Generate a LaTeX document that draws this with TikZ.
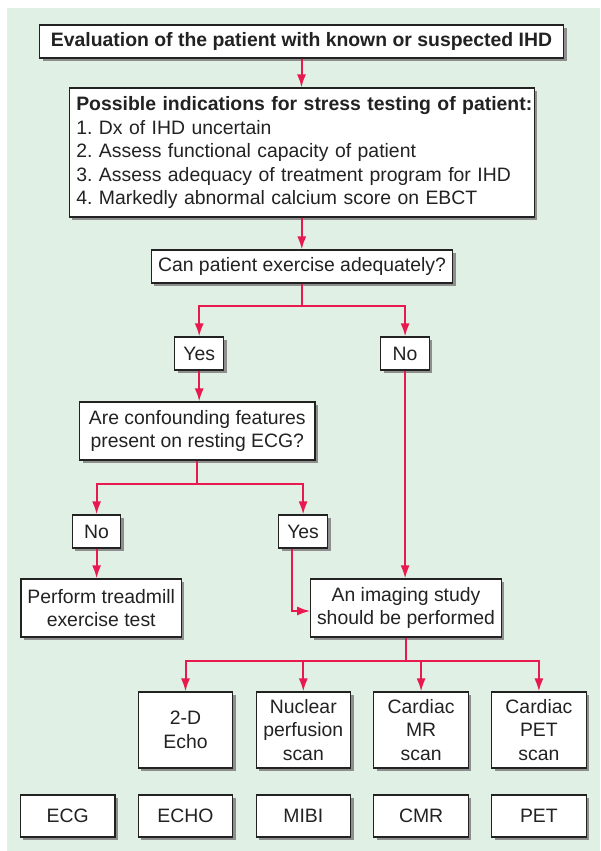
\documentclass[tikz,border=0pt]{standalone}
\usepackage{fontspec}
\setmainfont{Liberation Sans}
\usetikzlibrary{arrows.meta,calc,positioning,shadows}
\definecolor{ihdMint}{HTML}{E1F0E5}
\definecolor{ihdRose}{HTML}{E8194F}
\definecolor{ihdInk}{HTML}{222222}
\definecolor{ihdShade}{HTML}{8E8E8E}
\frenchspacing

\begin{document}
\begin{tikzpicture}[x=1pt,y=-1pt,>={Latex[length=13pt,width=9pt]}]
\useasboundingbox (0,0) rectangle (600,851);
\path[fill=ihdMint] (7,8) rectangle (600,851);
\tikzset{card/.style={draw=ihdInk,fill=white,line width=1.1pt,inner sep=4pt,align=center,text=ihdInk,font=\fontsize{19.4}{23.5}\selectfont,drop shadow={shadow xshift=3pt,shadow yshift=-3pt,fill=ihdShade,opacity=1}},link/.style={draw=ihdRose,line width=2pt}}
% top of the chart
\node[card,font=\bfseries\fontsize{19.4}{23.5}\selectfont,minimum width=524pt,minimum height=33pt] (eval) at (301.5,41.5) {Evaluation of the patient with known or suspected IHD};
\node[card,align=left,text width=451pt,inner xsep=7pt,minimum height=129pt] (indic) at (301.8,152.5) {\mbox{\textbf{Possible indications for stress testing of patient:}}\\1. Dx of IHD uncertain\\2. Assess functional capacity of patient\\3. Assess adequacy of treatment program for IHD\\4. Markedly abnormal calcium score on EBCT};
\node[card,minimum width=301.5pt,minimum height=33pt] (exer) at (302,266.5) {Can patient exercise adequately?};
\node[card,minimum width=48.6pt,minimum height=33pt] (yesA) at (199.2,353.5) {Yes};
\node[card,minimum width=48.6pt,minimum height=33pt] (noA) at (405.1,353.5) {No};
\node[card,minimum width=235.4pt,minimum height=58pt] (confound) at (197.3,431) {Are confounding features\\present on resting ECG?};
\node[card,minimum width=48.6pt,minimum height=33pt] (noB) at (96.6,531.5) {No};
\node[card,minimum width=49pt,minimum height=33pt] (yesB) at (303.1,531.5) {Yes};
\node[card,minimum width=160.4pt,minimum height=58pt] (treadmill) at (101.2,608) {Perform treadmill\\exercise test};
\node[card,minimum width=190.5pt,minimum height=58pt] (imaging) at (406,608) {An imaging study\\should be performed};
% imaging choices and their short names
\node[card,minimum width=94.5pt,minimum height=76pt] (echo) at (185.5,730) {2-D\\Echo};
\node[card,minimum width=94.5pt,minimum height=76pt] (nuclear) at (303.3,730) {Nuclear\\perfusion\\scan};
\node[card,minimum width=94.5pt,minimum height=76pt] (cardmr) at (421.1,730) {Cardiac\\MR\\scan};
\node[card,minimum width=94.5pt,minimum height=76pt] (cardpet) at (538.9,730) {Cardiac\\PET\\scan};
\node[card,minimum width=94.5pt,minimum height=42pt] (ecgTag) at (67.7,816) {ECG};
\node[card,minimum width=94.5pt,minimum height=42pt] (echoTag) at (185.5,816) {ECHO};
\node[card,minimum width=94.5pt,minimum height=42pt] (mibiTag) at (303.3,816) {MIBI};
\node[card,minimum width=94.5pt,minimum height=42pt] (cmrTag) at (421.1,816) {CMR};
\node[card,minimum width=94.5pt,minimum height=42pt] (petTag) at (538.9,816) {PET};
% connectors
\draw[link,->] (eval.south) -- (eval.south |- indic.north);
\draw[link,->] (indic.south) -- (indic.south |- exer.north);
\draw[link,->] (exer.south) -- ++(0,22) -| (yesA.north);
\draw[link,->] (exer.south) -- ++(0,22) -| (noA.north);
\draw[link,->] (yesA.south) -- (yesA.south |- confound.north);
\draw[link,->] (confound.south) -- ++(0,23) -| (noB.north);
\draw[link,->] (confound.south) -- ++(0,23) -| (yesB.north);
\draw[link,->] (noB.south) -- (noB.south |- treadmill.north);
\draw[link,->] ([xshift=-11.5pt]yesB.south) |- ([yshift=-3pt]imaging.west);
\draw[link,->] (noA.south) -- (noA.south |- imaging.north);
\draw[link,->] (imaging.south) -- ++(0,23) -| (echo.north);
\draw[link,->] (imaging.south) -- ++(0,23) -| (nuclear.north);
\draw[link,->] (imaging.south) -- ++(0,23) -| (cardmr.north);
\draw[link,->] (imaging.south) -- ++(0,23) -| (cardpet.north);
\end{tikzpicture}
\end{document}
